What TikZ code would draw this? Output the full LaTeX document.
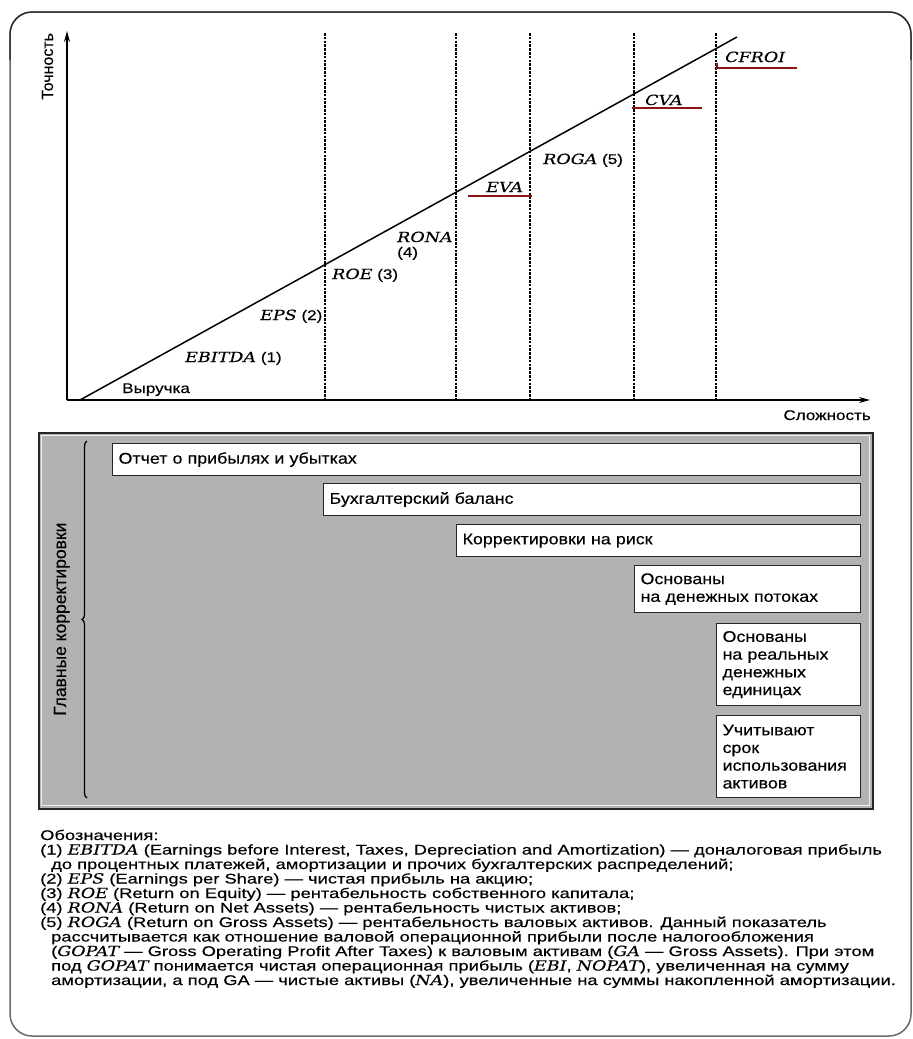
\documentclass[tikz,border=0pt]{standalone}
\usepackage{fontspec}
\setmainfont[FakeStretch=1.22,FakeBold=0.3]{Liberation Sans}
\newfontfamily\boxfont[FakeStretch=1.15,FakeBold=0.3]{Liberation Sans}
\newfontfamily\legfont[FakeStretch=1.31,FakeBold=0.3]{Liberation Sans}
\newfontfamily\plainsans[FakeBold=0.3]{Liberation Sans}
\newfontfamily\abbrfont[FakeStretch=1.25,FakeBold=0.3]{DejaVu Serif}
\usetikzlibrary{arrows.meta,decorations.pathreplacing}
\definecolor{framegray}{RGB}{105,105,105}
\definecolor{framedark}{RGB}{40,40,40}
\definecolor{panelgray}{RGB}{178,178,178}
\definecolor{markred}{RGB}{140,20,20}
\newcommand{\myab}[1]{{\abbrfont\itshape #1}}
\tikzset{
  frameline/.style={draw=framegray, line width=1.5pt, rounded corners=22pt},
  frametop/.style={draw=framedark, line width=1.3pt, rounded corners=22pt},
  axisline/.style={line width=1.4pt, -{Stealth[length=11pt,width=6pt]}},
  guide/.style={line width=1.1pt, dash pattern=on 2.5pt off 1.3pt},
  trend/.style={line width=1.5pt},
  redmark/.style={draw=markred, line width=2.6pt},
  lbl/.style={inner sep=0pt, font=\fontsize{14}{16}\selectfont},
  rotlbl/.style={inner sep=0pt, rotate=90, anchor=base west},
  panelbox/.style={draw=black!85, line width=1.6pt, fill=panelgray, anchor=north west, inner sep=0pt},
  itembox/.style={draw=black!85, line width=1.2pt, fill=white, anchor=north west, align=left,
    inner xsep=6pt, inner ysep=0pt, font=\boxfont\fontsize{15.5}{17.7}\selectfont},
  legline/.style={inner sep=0pt, anchor=base west, font=\legfont\fontsize{14}{14}\selectfont},
}
\begin{document}
\begin{tikzpicture}[x=1pt,y=-1pt]
\useasboundingbox (0,0) rectangle (913,1039);
% outer frame
\draw[frameline] (10,12) rectangle (911,1036);
\coordinate (fl) at (10,60);
\coordinate (ftl) at (10,12);
\coordinate (ftr) at (911,12);
\coordinate (fr) at (911,60);
\draw[frametop] (fl) -- (ftl) -- (ftr) -- (fr);

% axes
\coordinate (O) at (67,400);
\coordinate (ytop) at (67,31);
\coordinate (xend) at (870,400);
\draw[axisline] (O) -- (ytop);
\draw[axisline] (O) -- (xend);
\node[rotlbl, font=\plainsans\fontsize{16}{16}\selectfont] (yl) at (53,100) {Точность};
\node[lbl, anchor=base east] (xl) at (871,420) {Сложность};

% dashed guides
\foreach \gx/\gn in {325/g1,456/g2,530/g3,634/g4,716/g5}{
  \coordinate (\gn t) at (\gx,33);
  \coordinate (\gn b) at (\gx,400);
  \draw[guide] (\gn t) -- (\gn b);
}

% trend line
\coordinate (ts) at (80,400);
\coordinate (te) at (737,37);
\draw[trend] (ts) -- (te);

% labels on the chart
\node[lbl, anchor=base west] (rev) at (122,393) {Выручка};
\node[lbl, anchor=base west] (ebitda) at (185,362) {\myab{EBITDA} (1)};
\node[lbl, anchor=base west] (eps) at (260,320) {\myab{EPS} (2)};
\node[lbl, anchor=base west] (roe) at (332,279) {\myab{ROE} (3)};
\node[lbl, anchor=base west] (rona) at (397,242) {\myab{RONA}};
\node[lbl, anchor=base west] (rona4) at (397,257) {(4)};
\node[lbl, anchor=base west] (eva) at (486,192) {\myab{EVA}};
\node[lbl, anchor=base west] (roga) at (543,164) {\myab{ROGA} (5)};
\node[lbl, anchor=base west] (cva) at (645,105) {\myab{CVA}};
\node[lbl, anchor=base west] (cfroi) at (725,62) {\myab{CFROI}};

% red marks
\coordinate (evaL) at (468,196); \coordinate (evaR) at (532,196);
\coordinate (cvaL) at (632,108); \coordinate (cvaR) at (702,108);
\coordinate (cfL) at (717,68);  \coordinate (cfR) at (797,68);
\coordinate (cfH) at (717,63);
\draw[redmark] (evaL) -- (evaR);
\draw[redmark] (cvaL) -- (cvaR);
\draw[redmark] (cfH) -- (cfL) -- (cfR);

% grey panel
\node[panelbox, minimum width=834pt, minimum height=376pt] (panel) at (38,432) {};
\draw[white!80!panelgray, line width=0.8pt] (41,435) rectangle (869,805);
\coordinate (brB) at (87,798);
\coordinate (brT) at (87,441);
\draw[line width=1.3pt, decorate, decoration={brace, amplitude=5pt, aspect=0.5}] (brB) -- (brT);
\node[rotlbl, font=\plainsans\fontsize{17.5}{17.5}\selectfont] (main) at (66,716) {Главные корректировки};

% item boxes
\node[itembox, minimum width=748pt, minimum height=32pt, text width=736pt] (b1) at (112,443) {Отчет о прибылях и убытках};
\node[itembox, minimum width=537pt, minimum height=32pt, text width=525pt] (b2) at (323,483) {Бухгалтерский баланс};
\node[itembox, minimum width=404pt, minimum height=32pt, text width=392pt] (b3) at (456,524) {Корректировки на риск};
\node[itembox, minimum width=226pt, minimum height=47pt, text width=214pt] (b4) at (634,565) {Основаны\\на денежных потоках};
\node[itembox, minimum width=144pt, minimum height=82pt, text width=132pt] (b5) at (716,623) {Основаны\\на реальных\\денежных\\единицах};
\node[itembox, minimum width=144pt, minimum height=82pt, text width=132pt] (b6) at (716,715) {Учитывают\\срок\\использования\\активов};

% legend
\node[legline] (l1) at (40,840) {Обозначения:};
\node[legline] (l2) at (40,854.5) {(1) \myab{EBITDA} (Earnings before Interest, Taxes, Depreciation and Amortization) — доналоговая прибыль};
\node[legline] (l3) at (51,869) {до процентных платежей, амортизации и прочих бухгалтерских распределений;};
\node[legline] (l4) at (40,883.5) {(2) \myab{EPS} (Earnings per Share) — чистая прибыль на акцию;};
\node[legline] (l5) at (40,898) {(3) \myab{ROE} (Return on Equity) — рентабельность собственного капитала;};
\node[legline] (l6) at (40,912.5) {(4) \myab{RONA} (Return on Net Assets) — рентабельность чистых активов;};
\node[legline] (l7) at (40,927) {(5) \myab{ROGA} (Return on Gross Assets) — рентабельность валовых активов. Данный показатель};
\node[legline] (l8) at (51,941.5) {рассчитывается как отношение валовой операционной прибыли после налогообложения};
\node[legline] (l9) at (51,956) {(\myab{GOPAT} — Gross Operating Profit After Taxes) к валовым активам (\myab{GA} — Gross Assets). При этом};
\node[legline] (l10) at (51,970.5) {под \myab{GOPAT} понимается чистая операционная прибыль (\myab{EBI}, \myab{NOPAT}), увеличенная на сумму};
\node[legline] (l11) at (51,985) {амортизации, а под GA — чистые активы (\myab{NA}), увеличенные на суммы накопленной амортизации.};
\end{tikzpicture}
\end{document}
